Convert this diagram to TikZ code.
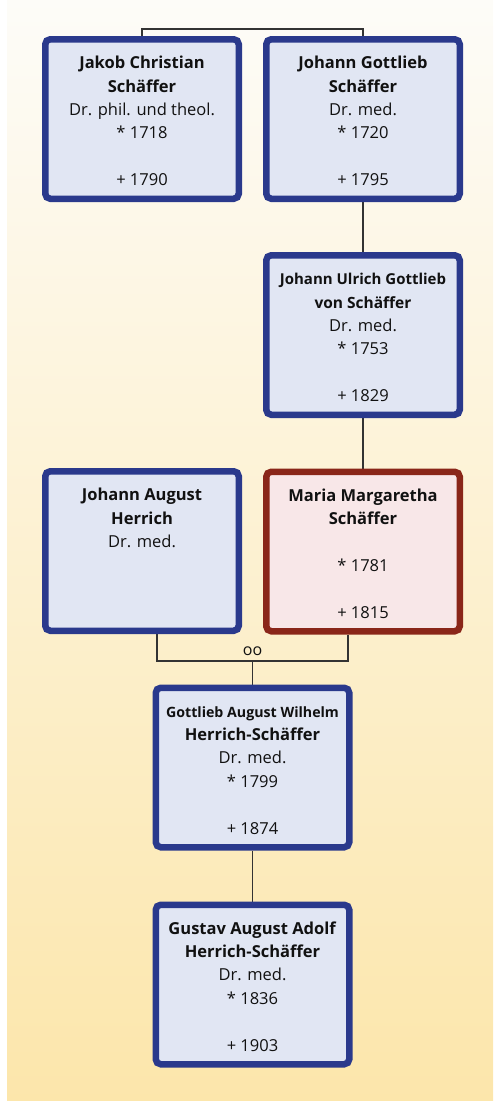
\documentclass[tikz,border=0pt]{standalone}
\usepackage{fontspec}
\setmainfont{Open Sans}
\definecolor{bgtop}{HTML}{FDFCF8}
\definecolor{bgbot}{HTML}{FCE6AB}
\definecolor{boxblue}{HTML}{2A398C}
\definecolor{boxfill}{HTML}{E1E6F3}
\definecolor{boxred}{HTML}{8A2619}
\definecolor{redfill}{HTML}{F8E7E8}
\definecolor{linkgray}{HTML}{333333}
\definecolor{txt}{HTML}{111111}
\newcommand{\fstr}{\rule{0pt}{16.5pt}}
\pgfdeclarelayer{bg}
\pgfdeclarelayer{links}
\pgfsetlayers{bg,links,main}
\tikzset{
  person/.style={draw=boxblue, fill=boxfill, line width=6.5pt, rounded corners=5pt,
    minimum width=193.5pt, minimum height=159.5pt, inner sep=0pt, align=center,
    font=\fontsize{16.5}{23.4}\selectfont, text=txt},
  personred/.style={person, draw=boxred, fill=redfill},
  link/.style={draw=linkgray, line width=1.3pt},
  marrlabel/.style={font=\fontsize{16}{18}\selectfont, text=txt, inner sep=1pt},
}
\begin{document}
\begin{tikzpicture}[x=1pt,y=-1pt]
\useasboundingbox (0,0) rectangle (493,1101);
\begin{pgfonlayer}{bg}
  \fill[white] (0,0) rectangle (493,1101);
  \shade[top color=bgtop, bottom color=bgbot] (7,0) rectangle (493,1101);
\end{pgfonlayer}

\node[person] (b1) at (142,119) {\fstr\textbf{Jakob Christian}\\\textbf{Schäffer}\\Dr. phil. und theol.\\* 1718\\[23.4pt]+ 1790};
\node[person] (b2) at (363,119) {\fstr\textbf{Johann Gottlieb}\\\textbf{Schäffer}\\Dr. med.\\* 1720\\[23.4pt]+ 1795};
\node[person] (b3) at (363,335) {\fstr{\fontsize{15}{23.4}\selectfont\textbf{Johann Ulrich Gottlieb}}\\{\fontsize{15.5}{23.4}\selectfont\textbf{von Schäffer}}\\Dr. med.\\* 1753\\[23.4pt]+ 1829};
\node[person] (b4) at (142,551) {\fstr\textbf{Johann August}\\\textbf{Herrich}\\Dr. med.\\[46.8pt]\vphantom{1}};
\node[personred] (b5) at (363,551.5) {\fstr\textbf{Maria Margaretha}\\\textbf{Schäffer}\\[23.4pt]* 1781\\[23.4pt]+ 1815};
\node[person] (b6) at (252.5,767.5) {\fstr{\fontsize{14.2}{23.4}\selectfont\textbf{Gottlieb August Wilhelm}}\\\textbf{Herrich-Schäffer}\\Dr. med.\\* 1799\\[23.4pt]+ 1874};
\node[person] (b7) at (252.5,984.5) {\fstr\textbf{Gustav August Adolf}\\\textbf{Herrich-Schäffer}\\Dr. med.\\* 1836\\[23.4pt]+ 1903};

\coordinate (top) at (252.5,29);
\coordinate (mar) at (252.5,661);
\node[marrlabel, anchor=south] (oo) at (252.5,657) {oo};

\begin{pgfonlayer}{links}
  \draw[link] (b1.north) |- (top) -| (b2.north);
  \draw[link] (b2.south) -- (b3.north);
  \draw[link] (b3.south) -- (b5.north);
  \draw[link] ([xshift=15pt]b4.south) |- (mar) -| ([xshift=-15pt]b5.south);
  \draw[link] (mar) -- (b6.north);
  \draw[link] (b6.south) -- (b7.north);
\end{pgfonlayer}
\end{tikzpicture}
\end{document}
